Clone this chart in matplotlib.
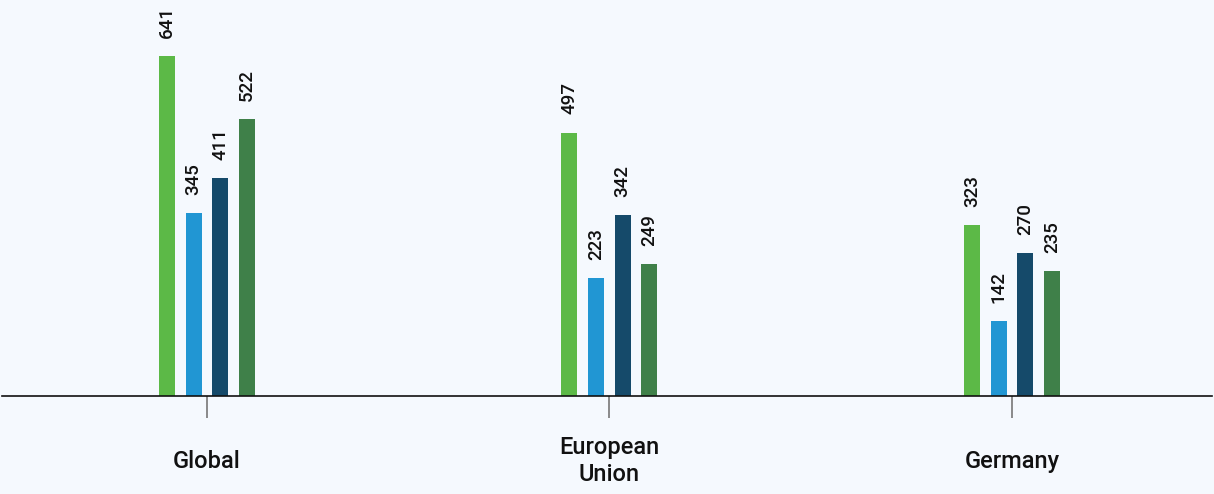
import numpy as np
import matplotlib.pyplot as plt

plt.rcParams['font.family'] = ['Roboto', 'DejaVu Sans']

regions = ['Global', 'European\nUnion', 'Germany']
series_a = [641, 497, 323]
series_b = [345, 223, 142]
series_c = [411, 342, 270]
series_d = [522, 249, 235]

colors = ['#5cb947', '#2196d3', '#154a6a', '#3f8049']
bg = '#f5f9fe'

fig = plt.figure(figsize=(12.14, 4.94), dpi=100, facecolor=bg)
ax = fig.add_axes([2 / 1214, 98 / 494, 1210 / 1214, 396 / 494])
ax.set_facecolor(bg)

x = np.arange(len(regions))
width = 0.04
offsets = [-0.0994, -0.033, 0.033, 0.0994]

for vals, off, c in zip([series_a, series_b, series_c, series_d], offsets, colors):
    ax.bar(x + off, vals, width=width, color=c, zorder=2)
    for xi, v in zip(x, vals):
        ax.annotate(str(v), (xi + off, v), xytext=(0, 13), textcoords='offset points',
                    rotation=90, ha='center', va='bottom', fontsize=13.5,
                    fontweight='medium', color='#111111')

ax.set_xlim(-0.509, 2.497)
ax.set_ylim(0, 747)

for s in ['top', 'right', 'left']:
    ax.spines[s].set_visible(False)
ax.spines['bottom'].set_color('#111111')
ax.spines['bottom'].set_linewidth(1.2)
ax.set_yticks([])
ax.set_xticks(x)
ax.set_xticklabels(regions, fontsize=17, fontweight='medium', color='#111111',
                   linespacing=1.2, va='center')
ax.tick_params(axis='x', length=16, width=1.2, color='#777777', pad=31)

fig.savefig('out.png', dpi=100, facecolor=bg)
